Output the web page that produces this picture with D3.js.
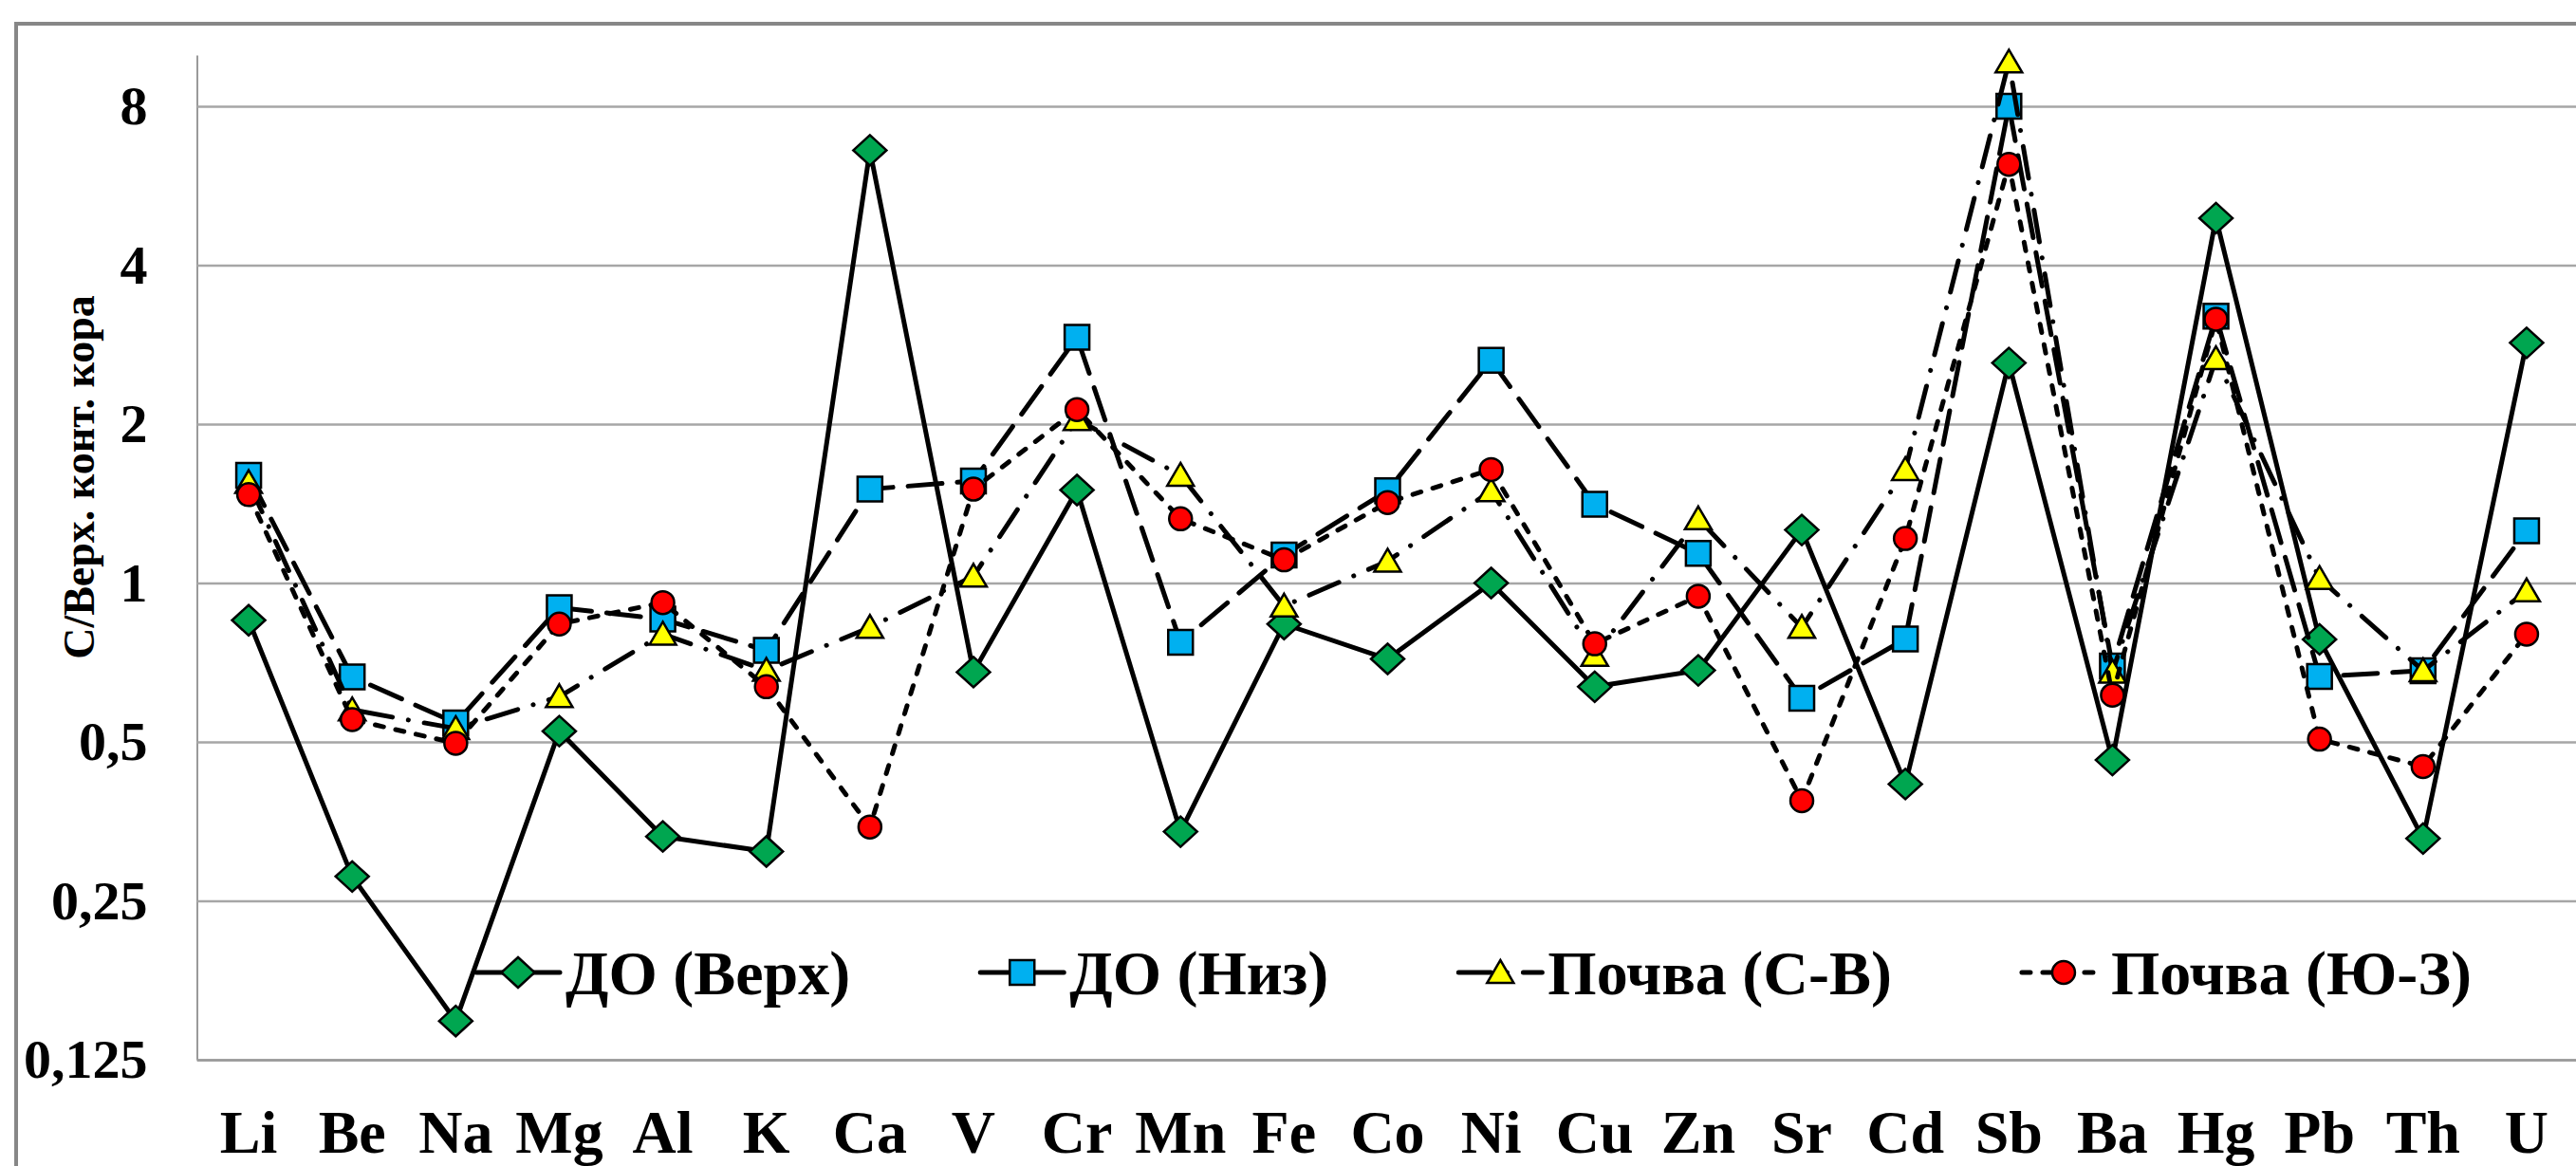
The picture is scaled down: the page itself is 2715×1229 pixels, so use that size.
<!DOCTYPE html>
<html>
<head>
<meta charset="utf-8">
<script src="https://cdn.jsdelivr.net/npm/d3@7"></script>
<style>
  body { margin: 0; background: #fff; }
  svg { display: block; font-family: "Liberation Serif", "Times New Roman", serif; font-weight: bold; }
</style>
</head>
<body>
<svg width="2715" height="1229"></svg>
<script>
const elements = ["Li", "Be", "Na", "Mg", "Al", "K", "Ca", "V", "Cr", "Mn", "Fe", "Co", "Ni", "Cu", "Zn", "Sr", "Cd", "Sb", "Ba", "Hg", "Pb", "Th", "U"];

const seriesNames = ["ДО (Верх)", "ДО (Низ)", "Почва (С-В)", "Почва (Ю-З)"];

const doTop = [0.85, 0.278, 0.148, 0.524, 0.331, 0.31, 6.6, 0.678, 1.5, 0.338, 0.836, 0.718, 1.0, 0.636, 0.683, 1.26, 0.416, 2.61, 0.462, 4.91, 0.782, 0.328, 2.85];
const doBottom = [1.6, 0.664, 0.543, 0.898, 0.854, 0.745, 1.506, 1.56, 2.92, 0.772, 1.13, 1.495, 2.64, 1.41, 1.138, 0.605, 0.783, 8.0, 0.696, 3.2, 0.665, 0.682, 1.256];
const soilNE = [1.55, 0.575, 0.53, 0.609, 0.8, 0.683, 0.824, 1.03, 2.04, 1.6, 0.904, 1.1, 1.495, 0.729, 1.323, 0.824, 1.64, 9.7, 0.678, 2.66, 1.02, 0.682, 0.966];
const soilSW = [1.47, 0.551, 0.497, 0.836, 0.918, 0.636, 0.345, 1.506, 2.13, 1.323, 1.106, 1.42, 1.64, 0.767, 0.944, 0.387, 1.214, 6.21, 0.613, 3.16, 0.506, 0.449, 0.8];

const yTicks = [0.125, 0.25, 0.5, 1, 2, 4, 8];
const yTickLabels = ["0,125", "0,25", "0,5", "1", "2", "4", "8"];
const yTitle = "С/Верх. конт. кора";

const svg = d3.select("svg");
const width = +svg.attr("width");
const height = +svg.attr("height");

const plot = { left: 207.5, right: 2717.5, top: 58, bottom: 1117 };

// outer frame
svg.append("rect")
  .attr("x", 17).attr("y", 25)
  .attr("width", width + 20).attr("height", height + 20)
  .attr("fill", "#fff")
  .attr("stroke", "#878787")
  .attr("stroke-width", 4);

const xScale = d3.scaleBand().domain(elements).range([plot.left, plot.right]);
const yScale = d3.scaleLog().base(2).domain([0.125, 10]).range([plot.bottom, plot.top]);

// y axis + gridlines
const yAxisG = svg.append("g")
  .attr("transform", `translate(${plot.left},0)`)
  .call(d3.axisLeft(yScale)
    .tickValues(yTicks)
    .tickFormat((d, i) => yTickLabels[i])
    .tickSizeInner(-(plot.right - plot.left))
    .tickSizeOuter(0)
    .tickPadding(52));
yAxisG.select(".domain").attr("stroke", "#9a9a9a").attr("stroke-width", 2);
yAxisG.selectAll(".tick line").attr("stroke", "#a6a6a6").attr("stroke-width", 2.5);
yAxisG.selectAll(".tick text")
  .attr("fill", "#000")
  .style("font-size", "58px")
  .style("font-family", "'Liberation Serif', 'Times New Roman', serif")
  .style("font-weight", "bold");

// x axis
const xAxisG = svg.append("g")
  .attr("transform", `translate(0,${plot.bottom})`)
  .call(d3.axisBottom(xScale).tickSize(0).tickPadding(53));
xAxisG.select(".domain").attr("stroke", "#9a9a9a").attr("stroke-width", 2.5);
xAxisG.selectAll(".tick text")
  .attr("fill", "#000")
  .style("font-size", "64px")
  .style("font-family", "'Liberation Serif', 'Times New Roman', serif")
  .style("font-weight", "bold");

// y axis title
svg.append("text")
  .attr("transform", "translate(83,503) rotate(-90)")
  .attr("text-anchor", "middle")
  .attr("dominant-baseline", "central")
  .style("font-size", "46px")
  .text(yTitle);

// marker shapes
const shapes = {
  diamond: "M0,-16L17.5,0L0,16L-17.5,0Z",
  square: "M-13,-13H13V13H-13Z",
  triangle: "M0,-13L14,11L-14,11Z",
  circle: "M-12,0A12,12 0 1,0 12,0A12,12 0 1,0 -12,0Z"
};

const series = [
  { name: seriesNames[0], values: doTop, color: "#00a650", shape: "diamond", dash: null },
  { name: seriesNames[1], values: doBottom, color: "#00b0f0", shape: "square", dash: "36,16" },
  { name: seriesNames[2], values: soilNE, color: "#ffff00", shape: "triangle", dash: "34,17,0.1,17" },
  { name: seriesNames[3], values: soilSW, color: "#ff0000", shape: "circle", dash: "9,13" }
];

const lineGen = d3.line()
  .x((d) => xScale(d.el) + xScale.bandwidth() / 2)
  .y((d) => yScale(d.v));

const seriesG = svg.selectAll(".series")
  .data(series)
  .enter()
  .append("g")
  .attr("class", "series");

seriesG.append("path")
  .attr("d", (s) => lineGen(s.values.map((v, i) => ({ el: elements[i], v: v }))))
  .attr("fill", "none")
  .attr("stroke", "#000")
  .attr("stroke-width", 5)
  .attr("stroke-linecap", "round")
  .attr("stroke-linejoin", "round")
  .attr("stroke-dasharray", (s) => s.dash);

seriesG.each(function (s) {
  d3.select(this).selectAll(".mark")
    .data(s.values.map((v, i) => ({ el: elements[i], v: v })))
    .enter()
    .append("path")
    .attr("class", "mark")
    .attr("d", shapes[s.shape])
    .attr("transform", (d) => `translate(${xScale(d.el) + xScale.bandwidth() / 2},${yScale(d.v)})`)
    .attr("fill", s.color)
    .attr("stroke", "#000")
    .attr("stroke-width", 2.5);
});

// legend
const legendY = 1025;
let lx = 502;
series.forEach((s) => {
  const g = svg.append("g").attr("transform", `translate(${lx},${legendY})`);
  g.append("line")
    .attr("x1", 0).attr("x2", 88)
    .attr("stroke", "#000")
    .attr("stroke-width", 5)
    .attr("stroke-linecap", "round")
    .attr("stroke-dasharray", s.dash);
  g.append("path")
    .attr("d", shapes[s.shape])
    .attr("transform", "translate(44,0)")
    .attr("fill", s.color)
    .attr("stroke", "#000")
    .attr("stroke-width", 2.5);
  const t = g.append("text")
    .attr("x", 94)
    .attr("dy", "0.35em")
    .style("font-size", "66px")
    .text(s.name);
  lx += 94 + t.node().getComputedTextLength() + 137;
});
</script>
</body>
</html>
